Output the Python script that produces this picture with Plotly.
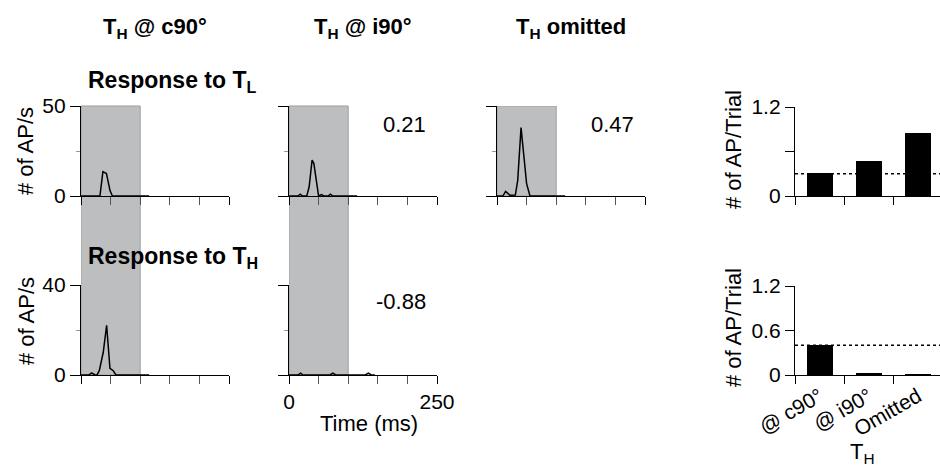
import plotly.graph_objects as go

# ---------------- data ----------------
col_titles = ["T<sub>H</sub> @ c90°", "T<sub>H</sub> @ i90°", "T<sub>H</sub> omitted"]

# PSTH, response to T_L (time ms, AP/s)
tl_c90_t = [0, 32, 37, 43, 49, 53, 115]
tl_c90_v = [0, 0, 13.5, 12.5, 3, 0, 0]
tl_i90_t = [0, 15, 19, 23, 30, 34, 39, 42, 50, 55, 59, 66, 70, 74, 115]
tl_i90_v = [0, 0, 1, 0, 0, 5, 20, 18, 0, 0.8, 0, 0, 1, 0, 0]
tl_omit_t = [0, 10, 14.5, 18, 22, 31, 35, 40.6, 45, 50, 55.7, 115]
tl_omit_v = [0, 0, 2.6, 1.3, 0.4, 0.5, 8.7, 38, 23.6, 6.9, 0, 0]

# PSTH, response to T_H
th_c90_t = [0, 13, 18, 23.6, 27, 30.9, 37.6, 43.3, 48.9, 54.5, 59, 115]
th_c90_v = [0, 0, 0.9, 0, 0, 1.9, 10.1, 22.1, 3, 1.9, 0, 0]
th_i90_t = [0, 15, 19.5, 24, 69, 74, 79, 129, 134, 139, 145]
th_i90_v = [0, 0, 0.8, 0, 0, 0.8, 0, 0, 0.8, 0, 0]

corr_labels = ["0.21", "0.47", "-0.88"]

# time axis ticks
time_major = [0, 250]
time_minor = [50, 100, 150, 200]

# bar charts (# of AP/Trial)
bar_cats = ["@ c90°", "@ i90°", "Omitted"]
bar_pos = [0.5, 1.5, 2.5]
tl_bars = [0.305, 0.47, 0.85]
tl_base = 0.30
th_bars = [0.41, 0.03, 0.01]
th_base = 0.40

stim_window = [0, 100]

# ---------------- layout helpers ----------------
W, H = 940, 468
FONT = "Liberation Sans, Arial, Helvetica, sans-serif"


def px(x):
    return x / W


def py(y):
    return 1 - y / H


fig = go.Figure()
line = dict(color="black", width=1.5)
traces = [
    (tl_c90_t, tl_c90_v, "x", "y"),
    (tl_i90_t, tl_i90_v, "x2", "y2"),
    (tl_omit_t, tl_omit_v, "x3", "y3"),
    (th_c90_t, th_c90_v, "x4", "y4"),
    (th_i90_t, th_i90_v, "x5", "y5"),
]
for t, v, xa, ya in traces:
    fig.add_trace(go.Scatter(x=t, y=v, mode="lines", line=line, xaxis=xa, yaxis=ya,
                             showlegend=False, hoverinfo="skip"))

fig.add_trace(go.Bar(x=bar_pos, y=tl_bars, width=0.53, marker=dict(color="black", line=dict(width=0)),
                     xaxis="x6", yaxis="y6", showlegend=False))
fig.add_trace(go.Bar(x=bar_pos, y=th_bars, width=0.53, marker=dict(color="black", line=dict(width=0)),
                     xaxis="x7", yaxis="y7", showlegend=False))

col_x = [(81, 229), (289, 437), (497, 645)]
top_y = (106, 196)
bot_y = (285, 375)
bar_x = (795, 940)
bar_top_y = (107, 196)
bar_bot_y = (286, 375)

tickfont = dict(family=FONT, size=21, color="black")


def xax(dom, yanchor, labels=False):
    return dict(domain=[px(dom[0]), px(dom[1])], anchor=yanchor, range=[0, 250],
                showline=True, linecolor="black", linewidth=1.3,
                ticks="outside", ticklen=8, tickwidth=1, tickcolor="black",
                tickvals=time_major, showticklabels=labels,
                minor=dict(tickvals=time_minor, ticks="outside", ticklen=8, tickwidth=1,
                           tickcolor="#555555"),
                showgrid=False, zeroline=False, tickfont=tickfont, automargin=False)


def yax(dom, xanchor, top, labels=False):
    return dict(domain=[py(dom[1]), py(dom[0])], anchor=xanchor, range=[0, top],
                showline=True, linecolor="black", linewidth=1.3,
                ticks="outside", ticklen=10, tickwidth=1, tickcolor="black",
                tickvals=[0, top], showticklabels=labels, showgrid=False, zeroline=False,
                minor=dict(tickvals=[top / 2], ticks="outside", ticklen=4, tickcolor="#999999"),
                tickfont=tickfont, automargin=False)


layout = dict(
    width=W, height=H, margin=dict(l=0, r=0, t=0, b=0),
    paper_bgcolor="white", plot_bgcolor="rgba(0,0,0,0)",
    font=dict(family=FONT, color="black", size=21),
    xaxis=xax(col_x[0], "y"), yaxis=yax(top_y, "x", 50, labels=True),
    xaxis2=xax(col_x[1], "y2"), yaxis2=yax(top_y, "x2", 50),
    xaxis3=xax(col_x[2], "y3"), yaxis3=yax(top_y, "x3", 50),
    xaxis4=xax(col_x[0], "y4"), yaxis4=yax(bot_y, "x4", 40, labels=True),
    xaxis5=xax(col_x[1], "y5", labels=True), yaxis5=yax(bot_y, "x5", 40),
    xaxis6=dict(domain=[px(bar_x[0]), 1.0], anchor="y6", range=[0, 2.95],
                showline=True, linecolor="black", linewidth=1.3, ticks="outside",
                ticklen=8, tickcolor="black", tickvals=[0, 1, 2, 3], showticklabels=False,
                showgrid=False, zeroline=False, automargin=False),
    yaxis6=dict(domain=[py(bar_top_y[1]), py(bar_top_y[0])], anchor="x6", range=[0, 1.2],
                showline=True, linecolor="black", linewidth=1.3, ticks="outside",
                ticklen=9, tickcolor="black", tickvals=[0, 1.2],
                minor=dict(tickvals=[0.6], ticks="outside", ticklen=9, tickcolor="black"),
                showgrid=False, zeroline=False, tickfont=tickfont, automargin=False),
    xaxis7=dict(domain=[px(bar_x[0]), 1.0], anchor="y7", range=[0, 2.95],
                showline=True, linecolor="black", linewidth=1.3, ticks="",
                tickvals=bar_pos, ticktext=bar_cats, tickangle=-30,
                minor=dict(tickvals=[0, 1, 2, 3], ticks="outside", ticklen=8, tickcolor="black"),
                showgrid=False, zeroline=False, tickfont=tickfont, automargin=False),
    yaxis7=dict(domain=[py(bar_bot_y[1]), py(bar_bot_y[0])], anchor="x7", range=[0, 1.2],
                showline=True, linecolor="black", linewidth=1.3, ticks="outside",
                ticklen=9, tickcolor="black", tickvals=[0, 0.6, 1.2],
                showgrid=False, zeroline=False, tickfont=tickfont, automargin=False),
    bargap=0,
)
fig.update_layout(**layout)

# stimulus windows (gray)
gray = "#bdbec0"
edge = "#9d9d9f"
fig.add_shape(type="rect", xref="x", yref="paper", x0=stim_window[0], x1=stim_window[1],
              y0=py(bot_y[1]), y1=py(top_y[0]), fillcolor=gray, line=dict(color=edge, width=1),
              layer="below")
fig.add_shape(type="rect", xref="x2", yref="paper", x0=stim_window[0], x1=stim_window[1],
              y0=py(bot_y[1]), y1=py(top_y[0]), fillcolor=gray, line=dict(color=edge, width=1),
              layer="below")
fig.add_shape(type="rect", xref="x3", yref="y3", x0=stim_window[0], x1=stim_window[1],
              y0=0, y1=50, fillcolor=gray, line=dict(color=edge, width=1), layer="below")

# baselines (dotted)
fig.add_shape(type="line", xref="x6", yref="y6", x0=0, x1=2.95, y0=tl_base, y1=tl_base,
              line=dict(color="black", width=1.5, dash="dot"))
fig.add_shape(type="line", xref="x7", yref="y7", x0=0, x1=2.95, y0=th_base, y1=th_base,
              line=dict(color="black", width=1.5, dash="dot"))

# texts
bold = dict(family=FONT, size=22, color="black")
for (x0, x1), title in zip(col_x, col_titles):
    fig.add_annotation(text="<b>" + title + "</b>", x=px((x0 + x1) / 2), y=py(28), xref="paper",
                       yref="paper", showarrow=False, font=bold, xanchor="center", yanchor="middle")

resp = dict(family=FONT, size=23, color="black")
fig.add_annotation(text="<b>Response to T<sub>L</sub></b>", x=px(86), y=py(81), xref="paper",
                   yref="paper", showarrow=False, font=resp, xanchor="left", yanchor="middle")
fig.add_annotation(text="<b>Response to T<sub>H</sub></b>", x=px(86), y=py(257), xref="paper",
                   yref="paper", showarrow=False, font=resp, xanchor="left", yanchor="middle")

numfont = dict(family=FONT, size=22, color="black")
for (cx, cy), lab in zip([(404, 125), (612, 125), (401, 301)], corr_labels):
    fig.add_annotation(text=lab, x=px(cx), y=py(cy), xref="paper", yref="paper", showarrow=False,
                       font=numfont, xanchor="center", yanchor="middle")

labfont = dict(family=FONT, size=22, color="black")
for cy in (151, 321):
    fig.add_annotation(text="# of AP/s", x=px(26), y=py(cy), xref="paper", yref="paper",
                       showarrow=False, textangle=-90, font=labfont, xanchor="center", yanchor="middle")
for cy in (150, 328):
    fig.add_annotation(text="# of AP/Trial", x=px(733), y=py(cy), xref="paper", yref="paper",
                       showarrow=False, textangle=-90, font=labfont, xanchor="center", yanchor="middle")
fig.add_annotation(text="Time (ms)", x=px(369), y=py(423), xref="paper", yref="paper",
                   showarrow=False, font=labfont, xanchor="center", yanchor="middle")
fig.add_annotation(text="T<sub>H</sub>", x=px(862), y=py(453), xref="paper", yref="paper",
                   showarrow=False, font=labfont, xanchor="center", yanchor="middle")

fig.write_html("out.html", config={"displayModeBar": False},
               post_script="document.body.style.margin='0';document.body.style.overflow='hidden';")
